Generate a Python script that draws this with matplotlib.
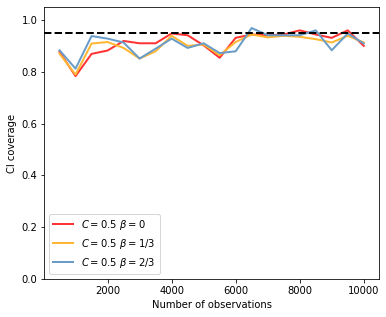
import matplotlib
matplotlib.use("Agg")
import matplotlib.pyplot as plt
import numpy as np

n_obs = [500, 1000, 1500, 2000, 2500, 3000, 3500, 4000, 4500, 5000,
         5500, 6000, 6500, 7000, 7500, 8000, 8500, 9000, 9500, 10000]
cov_b0 = [0.878, 0.784, 0.870, 0.883, 0.920, 0.911, 0.911, 0.949, 0.942, 0.903,
          0.855, 0.932, 0.945, 0.942, 0.945, 0.961, 0.945, 0.932, 0.961, 0.901]
cov_b13 = [0.871, 0.790, 0.910, 0.916, 0.893, 0.852, 0.880, 0.940, 0.901, 0.906,
           0.865, 0.916, 0.945, 0.934, 0.940, 0.936, 0.927, 0.914, 0.940, 0.914]
cov_b23 = [0.884, 0.813, 0.939, 0.929, 0.914, 0.852, 0.890, 0.929, 0.893, 0.911,
           0.873, 0.880, 0.970, 0.942, 0.942, 0.942, 0.961, 0.884, 0.949, 0.910]
labels = [r"$C=0.5\ \beta=0$", r"$C=0.5\ \beta=1/3$", r"$C=0.5\ \beta=2/3$"]
target = 0.95

fig = plt.figure(figsize=(386/72, 317/72), dpi=72)
ax = fig.add_axes([0.1148, 0.1199, 0.867, 0.857])
ax.plot(n_obs, cov_b0, color="#ff3333", lw=2, label=labels[0])
ax.plot(n_obs, cov_b13, color="#ffb733", lw=2, label=labels[1])
ax.plot(n_obs, cov_b23, color="#6a9cc8", lw=2, label=labels[2])
ax.axhline(target, color="black", ls="--", lw=2)
ax.set_ylim(0, 1.05)
ax.set_xlabel("Number of observations")
ax.set_ylabel("CI coverage")
ax.legend(loc="lower left")
fig.savefig("out.png", dpi=72)
